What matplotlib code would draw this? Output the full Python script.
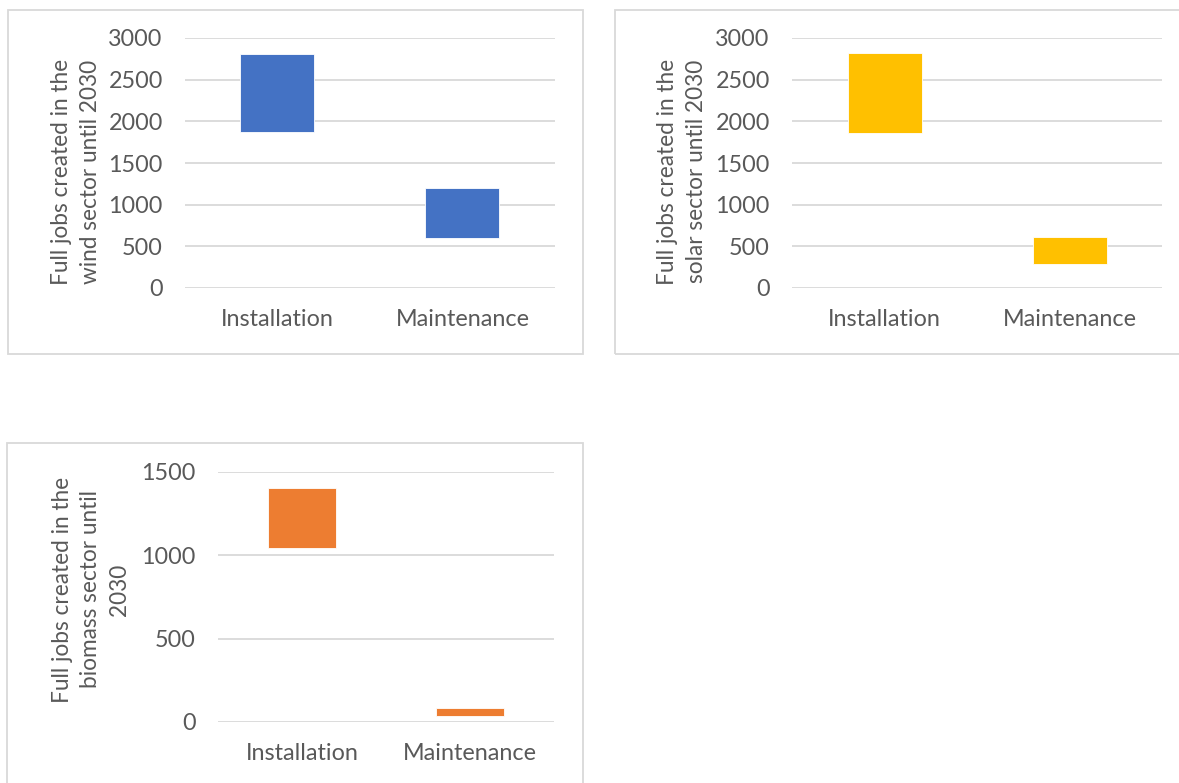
import matplotlib.pyplot as plt
from matplotlib.patches import Rectangle

# Floating bars: each bar runs from low to high
categories = ["Installation", "Maintenance"]

wind_low = [1872, 600]
wind_high = [2812, 1196]

solar_low = [1860, 288]
solar_high = [2824, 612]

biomass_low = [1044, 34]
biomass_high = [1404, 84]

W, H = 1179, 783
GRID = "#d9d9d9"
TEXT = "#595959"
FS = 16.8
LABEL_FS = 16.3

plt.rcParams['font.family'] = ['Lato', 'DejaVu Sans']

fig = plt.figure(figsize=(W / 100, H / 100), dpi=100)


def px_rect(x0, y0, x1, y1):
    """Pixel box (top-left origin) -> figure fraction [l, b, w, h]."""
    return [x0 / W, 1 - y1 / H, (x1 - x0) / W, (y1 - y0) / H]


def panel_border(x0, y0, x1, y1):
    l, b, w, h = px_rect(x0, y0, x1, y1)
    fig.add_artist(Rectangle((l, b), w, h, transform=fig.transFigure,
                             fill=False, ec=GRID, lw=1.3))


def draw_panel(box, low, high, color, ymax, step, label, label_xy):
    ax = fig.add_axes(px_rect(*box))
    heights = [h - l for l, h in zip(low, high)]
    ax.bar(categories, heights, bottom=low, width=0.4, color=color,
           edgecolor="white", linewidth=0.6, zorder=3)
    ax.set_ylim(0, ymax)
    ax.set_xlim(-0.5, 1.5)
    ax.set_yticks(range(0, ymax + 1, step))
    ax.grid(axis="y", color=GRID, linewidth=1.3, zorder=0)
    for s in ax.spines.values():
        s.set_visible(False)
    ax.tick_params(axis="both", length=0, labelsize=FS, colors=TEXT)
    ax.tick_params(axis="y", pad=16)
    ax.tick_params(axis="x", pad=15)
    ax.set_ylabel(label, fontsize=LABEL_FS, color=TEXT, linespacing=1.45)
    ax.yaxis.set_label_coords(*label_xy)
    ax.yaxis.label.set_va("center")
    return ax


panel_border(8, 10, 583, 354)
panel_border(615, 10, 1185, 354)
panel_border(7, 443, 583, 790)

draw_panel((185, 38, 555, 288), wind_low, wind_high, "#4472C4", 3000, 500,
           "Full jobs created in the\nwind sector until 2030", (-0.295, 0.465))
draw_panel((792, 38, 1162, 288), solar_low, solar_high, "#FFC000", 3000, 500,
           "Full jobs created in the\nsolar sector until 2030", (-0.297, 0.465))
draw_panel((218, 472, 554, 722), biomass_low, biomass_high, "#ED7D31", 1500, 500,
           "Full jobs created in the\nbiomass sector until\n2030", (-0.378, 0.53))

fig.savefig("out.png", dpi=100)
